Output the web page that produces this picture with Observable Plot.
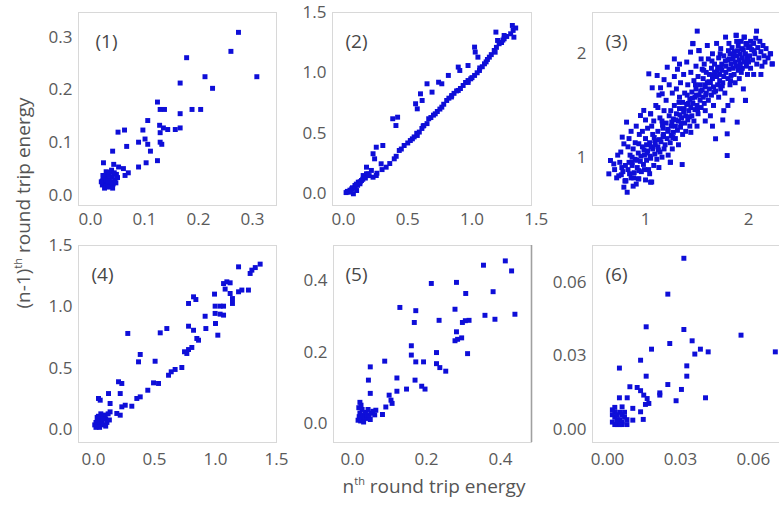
<!DOCTYPE html>
<html><head><meta charset="utf-8">
<script src="https://cdn.jsdelivr.net/npm/d3@7"></script>
<script src="https://cdn.jsdelivr.net/npm/@observablehq/plot@0.6"></script>
<style>
body{margin:0;background:#fff;}
#chart{position:relative;width:779px;height:506px;overflow:hidden;background:#fff;font-family:"Open Sans",sans-serif;}
</style></head><body><div id="chart"></div>
<script>
// ---- data: [n-th energy, (n-1)-th energy] ----
const p1 = [[0.274,0.309],[0.260,0.273],[0.308,0.225],[0.178,0.261],[0.212,0.225],[0.226,0.203],[0.166,0.213],[0.124,0.177],[0.129,0.163],[0.137,0.163],[0.166,0.155],[0.188,0.163],[0.204,0.163],[0.106,0.142],[0.128,0.133],[0.135,0.128],[0.143,0.125],[0.157,0.125],[0.166,0.128],[0.129,0.119],[0.051,0.120],[0.063,0.124],[0.097,0.124],[0.089,0.101],[0.101,0.107],[0.106,0.097],[0.129,0.101],[0.132,0.097],[0.067,0.093],[0.041,0.084],[0.111,0.084],[0.124,0.066],[0.103,0.062],[0.089,0.054],[0.024,0.062],[0.043,0.059],[0.052,0.054],[0.061,0.051],[0.070,0.043],[0.064,0.038],
[0.022,0.020],[0.025,0.024],[0.028,0.018],[0.030,0.028],[0.024,0.032],[0.033,0.022],[0.027,0.036],[0.035,0.030],[0.031,0.040],[0.038,0.026],[0.022,0.028],[0.026,0.014],[0.036,0.017],[0.040,0.035],[0.029,0.045],[0.042,0.022],[0.034,0.038],[0.045,0.030],[0.023,0.038],[0.037,0.044],[0.048,0.040],[0.032,0.016],[0.041,0.014],[0.028,0.030],[0.047,0.024],[0.050,0.034],[0.020,0.026],[0.039,0.048],[0.044,0.043],[0.033,0.027]];

const p2 = [[0.230,0.137],[0.332,0.220],[0.395,0.289],[0.434,0.358],[0.472,0.399],[0.536,0.454],[0.574,0.482],[0.625,0.564],[0.663,0.620],[0.714,0.661],[0.765,0.716],[0.803,0.771],[0.842,0.812],[0.893,0.854],[0.931,0.895],[0.969,0.936],[1.020,0.978],[1.058,1.019],[1.097,1.074],[1.135,1.129],[1.173,1.184],[1.211,1.240],[1.250,1.281],[1.301,1.322],
[0.26,0.17],[0.30,0.20],[0.36,0.25],[0.41,0.31],[0.45,0.37],[0.50,0.42],[0.52,0.44],[0.55,0.47],[0.59,0.51],[0.61,0.54],[0.65,0.58],[0.68,0.63],[0.70,0.65],[0.73,0.68],[0.75,0.70],[0.78,0.74],[0.82,0.79],[0.86,0.83],[0.88,0.85],[0.91,0.87],[0.95,0.92],[0.99,0.95],[1.04,1.00],[1.08,1.05],[1.11,1.09],[1.15,1.15],[1.19,1.21],[1.23,1.25],[1.27,1.30],[1.32,1.35],[1.34,1.37],[1.06,1.04],[0.97,0.92],[0.84,0.80],[0.62,0.56],[0.57,0.50],[1.18,1.17],[1.24,1.27],[1.12,1.11],[1.00,0.96],
[0.383,0.620],[0.421,0.633],[0.408,0.564],[0.574,0.702],[0.561,0.744],[0.612,0.771],[0.599,0.826],[0.650,0.909],[0.689,0.840],[0.740,0.922],[0.765,0.909],[0.816,0.978],[0.893,1.047],[0.905,1.019],[0.969,1.060],[1.020,1.212],[1.025,1.171],[1.046,1.129],[1.186,1.336],[1.250,1.308],[1.326,1.294],[1.314,1.391],[1.199,1.267],[0.255,0.385],[0.306,0.399],[0.230,0.331],[0.242,0.289],[0.293,0.248],[0.179,0.220],[0.217,0.193],[0.255,0.151],
[0.038,0.013],[0.064,0.041],[0.077,0.000],[0.089,0.069],[0.102,0.027],[0.115,0.096],[0.128,0.083],[0.140,0.110],[0.153,0.151],[0.166,0.137],[0.179,0.165],[0.191,0.165],[0.02,0.01],[0.05,0.03],[0.03,0.02],[0.07,0.05],[0.09,0.05],[0.11,0.07],[0.13,0.10],[0.06,0.02],[0.10,0.08],[0.15,0.12],[0.17,0.13],[0.20,0.15]];

const p3 = [[1.502,2.219],[2.078,2.219],[1.777,2.161],[1.880,2.177],[1.956,2.161],[1.459,2.097],[1.437,2.016],[1.518,2.032],[2.230,1.903],[2.214,2.000],[1.032,1.806],[1.113,1.790],[1.211,1.870],[1.065,1.671],[1.146,1.671],[1.162,1.613],[0.816,1.339],[0.951,1.403],[0.983,1.452],[1.049,1.419],[0.774,1.194],[0.790,1.129],[0.660,0.968],[0.692,0.935],[0.644,0.839],[0.790,0.710],[0.822,0.661],[0.806,0.774],[1.049,0.758],[0.935,0.791],[1.793,1.016],[1.356,0.929],[1.680,1.178],[1.793,1.226],[1.890,1.339],[1.971,1.548],[1.243,0.952],
[0.72,0.80],[0.74,0.82],[0.75,0.95],[0.77,0.90],[0.80,0.77],[0.78,0.86],[0.73,1.02],[0.76,1.05],[0.70,0.88],
[0.81,0.77],[0.83,0.88],[0.84,0.95],[0.85,1.02],[0.86,0.80],[0.87,0.92],[0.88,1.08],[0.89,0.85],[0.90,0.98],[0.90,1.14],[0.91,0.74],[0.92,0.90],[0.93,1.04],[0.93,0.79],[0.94,1.22],[0.95,0.96],[0.83,1.10],[0.86,1.25],[0.88,0.72],[0.91,1.30],[0.84,1.18],[0.87,1.00],
[0.96,0.86],[0.97,1.10],[0.98,0.93],[0.99,1.02],[1.00,0.78],[1.00,1.18],[1.01,0.97],[1.02,1.06],[1.02,1.28],[1.03,0.88],[1.04,1.14],[1.05,1.42],[1.05,0.99],[1.06,0.76],[1.07,1.08],[1.07,1.22],[1.08,0.92],[1.08,1.35],[1.09,1.03],[1.09,1.16],[1.10,1.50],[0.97,1.25],[1.00,1.36],[1.04,0.84],[1.01,1.12],[1.06,1.30],[0.99,0.88],
[1.11,0.98],[1.12,1.10],[1.12,1.25],[1.13,1.60],[1.13,0.90],[1.14,1.05],[1.14,1.38],[1.15,1.15],[1.16,1.00],[1.17,1.28],[1.17,1.20],[1.18,1.45],[1.18,1.08],[1.19,1.12],[1.20,1.33],[1.20,1.55],[1.21,1.18],[1.22,1.02],[1.22,1.25],[1.23,1.40],[1.23,1.70],[1.24,1.14],[1.24,0.95],[1.25,1.30],[1.25,1.21],[1.12,1.48],[1.18,1.75],[1.16,1.35],
[1.26,1.62],[1.26,1.08],[1.27,1.37],[1.27,1.24],[1.28,1.50],[1.28,1.78],[1.29,1.18],[1.29,1.30],[1.30,1.42],[1.30,1.66],[1.31,1.26],[1.31,1.85],[1.32,1.35],[1.32,1.12],[1.33,1.47],[1.33,1.58],[1.34,1.29],[1.34,1.72],[1.35,1.38],[1.36,1.22],[1.36,1.53],[1.37,1.44],[1.37,1.80],[1.38,1.33],[1.38,1.62],[1.39,1.40],[1.39,1.25],[1.40,1.51],[1.40,1.92],[1.28,1.95],[1.33,1.90],
[1.41,1.36],[1.41,1.70],[1.42,1.45],[1.43,1.56],[1.43,1.30],[1.44,1.48],[1.44,1.82],[1.45,1.40],[1.45,1.63],[1.46,2.10],[1.46,1.52],[1.47,1.35],[1.47,1.74],[1.48,1.58],[1.48,1.46],[1.49,1.88],[1.49,1.66],[1.50,1.50],[1.51,1.42],[1.51,1.78],[1.52,2.03],[1.52,1.60],[1.53,1.55],[1.53,1.70],[1.54,1.95],[1.54,1.48],[1.55,1.65],[1.55,1.85],[1.44,1.24],[1.50,1.30],
[1.56,1.58],[1.56,1.76],[1.57,1.52],[1.57,1.90],[1.58,1.68],[1.58,1.45],[1.59,1.82],[1.59,1.62],[1.60,2.08],[1.60,1.72],[1.61,1.55],[1.61,1.95],[1.62,1.66],[1.62,1.80],[1.63,1.40],[1.63,1.72],[1.64,1.86],[1.64,1.60],[1.65,2.00],[1.65,1.76],[1.66,1.50],[1.66,1.68],[1.67,1.90],[1.67,1.82],[1.68,1.64],[1.69,1.78],[1.69,2.10],[1.70,1.70],[1.70,1.87],[1.58,1.35],[1.65,1.30],
[1.71,1.96],[1.71,1.58],[1.72,1.80],[1.72,1.74],[1.73,2.05],[1.73,1.66],[1.74,1.90],[1.74,1.84],[1.75,1.36],[1.75,1.72],[1.76,1.98],[1.76,1.78],[1.77,1.62],[1.78,1.88],[1.78,1.82],[1.80,1.94],[1.80,1.76],[1.81,2.10],[1.81,1.85],[1.82,1.70],[1.82,2.00],[1.83,1.90],[1.83,1.79],[1.84,1.55],[1.84,2.06],[1.85,1.86],[1.85,1.95],[1.76,1.45],[1.80,1.50],
[1.86,1.80],[1.86,2.02],[1.87,1.92],[1.87,1.72],[1.88,2.18],[1.88,1.88],[1.89,1.98],[1.90,1.84],[1.90,2.08],[1.91,1.94],[1.91,1.76],[1.92,2.00],[1.92,1.90],[1.93,1.82],[1.93,2.12],[1.94,1.96],[1.94,1.86],[1.95,2.04],[1.95,1.66],[1.96,2.16],[1.96,1.92],[1.97,1.55],[1.97,2.00],[1.98,1.88],[1.98,2.10],[1.99,1.96],[1.99,1.80],[2.00,2.06],[2.00,1.92],
[2.01,1.98],[2.02,2.12],[2.02,1.86],[2.03,2.04],[2.04,1.94],[2.05,2.10],[2.05,1.80],[2.06,2.00],[2.07,2.15],[2.08,1.90],[2.09,2.06],[2.10,1.96],[2.11,2.12],[2.12,2.02],[2.13,1.88],[2.14,2.08],[2.15,1.98],[2.16,1.92],[2.17,2.05],[2.19,1.96],[2.21,2.00],[2.23,1.90],[2.12,1.80],
[0.87,0.95],[0.915,0.97],[0.955,1.01],[1.015,1.04],[1.055,1.10],[1.095,1.12],[1.135,1.17],[1.175,1.22],[1.215,1.27],[1.255,1.34],[1.295,1.36],[1.335,1.41],[1.375,1.47],[1.415,1.52],[1.455,1.57],[1.495,1.60],[1.535,1.64],[1.575,1.70],[1.615,1.73],[1.655,1.79],[1.695,1.83],[1.735,1.86],[1.775,1.93],[1.815,1.95],[1.855,1.99],[1.895,2.03],[1.935,2.05],[1.975,2.09],[2.015,2.07],[2.055,2.03],
[0.935,0.87],[1.045,1.01],[1.125,1.07],[1.265,1.19],[1.345,1.33],[1.425,1.39],[1.505,1.46],[1.585,1.60],[1.665,1.63],[1.745,1.69],[1.825,1.74],[1.905,1.88],[1.985,1.94],[0.985,1.07],[1.085,1.19],[1.165,1.31],[1.245,1.45],[1.325,1.53],[1.405,1.60],[1.485,1.70],[1.565,1.84],[1.645,1.93],[1.725,2.00],[1.805,2.03],[1.885,2.12],[0.805,0.92],[0.765,0.83],[0.845,0.84],[0.885,0.80],[0.935,1.13]];

const p4 = [[0.281,0.784],[0.547,0.789],[0.601,0.824],[0.383,0.613],[0.369,0.553],[0.505,0.558],[0.779,1.028],[0.820,1.082],[0.839,1.060],[0.779,0.843],[0.820,0.810],[0.915,0.924],[0.921,0.824],[1.000,0.865],[1.019,0.770],[0.847,0.743],[0.861,0.729],[0.746,0.635],[0.779,0.653],[0.806,0.670],[0.765,0.621],[0.724,0.507],[0.669,0.491],[0.637,0.472],[0.615,0.444],[0.533,0.377],[0.492,0.382],[0.445,0.322],[0.383,0.268],[0.355,0.255],[0.314,0.192],[0.260,0.200],[0.232,0.187],[0.205,0.391],[0.232,0.377],[0.219,0.295],[0.123,0.295],[0.136,0.214],[0.041,0.255],[0.055,0.241],[0.191,0.133],[0.219,0.119],[0.136,0.146],[1.189,1.326],[1.284,1.272],[1.298,1.299],[1.326,1.320],[1.366,1.348],[1.066,1.190],[1.093,1.204],[1.120,1.196],[1.079,1.145],[1.120,1.109],[1.139,1.068],[1.139,1.028],[1.189,1.123],[1.216,1.137],[1.270,1.137],[0.992,1.104],[0.997,1.006],[1.038,1.006],[1.066,1.006],[0.997,0.947],[1.038,0.941],[1.066,0.933],
[0.01,0.04],[0.02,0.06],[0.03,0.03],[0.04,0.08],[0.05,0.05],[0.06,0.10],[0.07,0.07],[0.08,0.04],[0.09,0.12],[0.10,0.09],[0.11,0.06],[0.12,0.13],[0.03,0.10],[0.05,0.02],[0.02,0.02],[0.08,0.09],[0.13,0.08],[0.06,0.13],[0.04,0.11],[0.10,0.03]];

const p5 = [[0.354,0.443],[0.413,0.455],[0.430,0.427],[0.213,0.392],[0.281,0.395],[0.306,0.364],[0.380,0.369],[0.128,0.325],[0.171,0.316],[0.167,0.283],[0.234,0.289],[0.277,0.320],[0.297,0.283],[0.305,0.288],[0.315,0.289],[0.358,0.303],[0.385,0.292],[0.439,0.306],[0.281,0.257],[0.277,0.232],[0.284,0.236],[0.295,0.240],[0.159,0.218],[0.159,0.192],[0.171,0.173],[0.192,0.173],[0.227,0.199],[0.311,0.196],[0.227,0.168],[0.236,0.157],[0.252,0.147],[0.087,0.175],[0.048,0.159],[0.043,0.122],[0.048,0.085],[0.120,0.128],[0.169,0.122],[0.187,0.105],[0.196,0.097],[0.146,0.097],[0.120,0.091],[0.099,0.080],[0.104,0.066],[0.107,0.057],[0.090,0.047],[0.063,0.038],[0.081,0.026],
[0.015,0.010],[0.018,0.020],[0.022,0.008],[0.025,0.015],[0.020,0.030],[0.028,0.025],[0.030,0.012],[0.033,0.020],[0.026,0.040],[0.035,0.032],[0.038,0.015],[0.040,0.025],[0.017,0.045],[0.023,0.052],[0.045,0.020],[0.050,0.030],[0.042,0.040],[0.055,0.035],[0.030,0.005],[0.048,0.012],[0.060,0.025],[0.020,0.060]];

const p6 = [[0.0314,0.0697],[0.0248,0.0551],[0.0159,0.0418],[0.0314,0.0407],[0.0256,0.0350],[0.0348,0.0361],[0.0549,0.0384],[0.0690,0.0316],[0.0181,0.0327],[0.0382,0.0327],[0.0359,0.0307],[0.0414,0.0316],[0.0136,0.0282],[0.0049,0.0250],[0.0326,0.0259],[0.0159,0.0217],[0.0326,0.0217],[0.0248,0.0183],[0.0304,0.0163],[0.0215,0.0149],[0.0215,0.0140],[0.0282,0.0117],[0.0403,0.0129],[0.0092,0.0174],[0.0122,0.0171],[0.0136,0.0158],[0.0149,0.0140],[0.0163,0.0126],[0.0170,0.0106],[0.0156,0.0102],[0.0049,0.0129],[0.0081,0.0129],[0.0060,0.0092],[0.0104,0.0086],[0.0136,0.0072],[0.0104,0.0038],[0.0147,0.0041],
[0.002,0.003],[0.003,0.005],[0.004,0.002],[0.005,0.004],[0.003,0.007],[0.006,0.003],[0.004,0.006],[0.007,0.005],[0.002,0.008],[0.005,0.007],[0.006,0.002],[0.008,0.004],[0.003,0.009],[0.007,0.007],[0.004,0.004],[0.002,0.006],[0.006,0.006],[0.005,0.002],[0.008,0.002],[0.003,0.002]];

// ---- tick values and labels ----
const ticks1 = [0, 0.1, 0.2, 0.3];
const ticks2 = [0, 0.5, 1.0, 1.5];
const ticks3 = [1, 2];
const ticks4 = [0, 0.5, 1.0, 1.5];
const ticks5 = [0, 0.2, 0.4];
const ticks6 = [0, 0.03, 0.06];
const panelLabels = ["(1)", "(2)", "(3)", "(4)", "(5)", "(6)"];
const xTitleMain = "n", xTitleSup = "th", xTitleRest = " round trip energy";
const yTitleMain = "(n-1)", yTitleSup = "th", yTitleRest = " round trip energy";

const chart = document.getElementById("chart");
const DOT = "#0e0ed8";

function panel(c) {
  const svg = Plot.plot({
    width: c.w, height: c.h,
    marginLeft: c.ml, marginRight: c.mr, marginTop: c.mt, marginBottom: c.mb,
    x: {domain: c.xd, ticks: c.ticks, tickFormat: d3.format(c.fmt), tickSize: 0, tickPadding: c.padX, label: null},
    y: {domain: c.yd, ticks: c.ticks, tickFormat: d3.format(c.fmt), tickSize: 0, tickPadding: 6, label: null},
    style: {background: "transparent", overflow: "visible", fontFamily: "'Open Sans', sans-serif", fontSize: "17px", color: "#5a5a5a"},
    marks: [
      Plot.frame({stroke: "#d8d8d8"}),
      ...(c.extra || []),
      Plot.dot(c.data, {x: d => d[0], y: d => d[1], symbol: "square", r: 2.8, fill: DOT}),
      Plot.text([c.label], {frameAnchor: "top-left", textAnchor: "start", lineAnchor: "middle", dx: c.dx, dy: 29, fill: "#474747", fontSize: 19})
    ]
  });
  svg.style.position = "absolute";
  svg.style.left = c.left + "px";
  svg.style.top = c.top + "px";
  chart.appendChild(svg);
}

panel({data: p1, label: panelLabels[0], ticks: ticks1, fmt: ".1f", left: 0, top: 0, w: 280, h: 240, ml: 78, mr: 4, mt: 12, mb: 35,
  xd: [-0.0222, 0.3444], yd: [-0.0189, 0.3466], padX: 7, dx: 17});
panel({data: p2, label: panelLabels[1], ticks: ticks2, fmt: ".1f", left: 280, top: 0, w: 254, h: 240, ml: 52, mr: 3, mt: 12, mb: 35,
  xd: [-0.0856, 1.463], yd: [-0.0967, 1.498], padX: 7, dx: 13});
panel({data: p3, label: panelLabels[2], ticks: ticks3, fmt: "d", left: 535, top: 0, w: 260, h: 240, ml: 57, mr: 0, mt: 12, mb: 35,
  xd: [0.4854, 2.456], yd: [0.5329, 2.399], padX: 7, dx: 13});
panel({data: p4, label: panelLabels[3], ticks: ticks4, fmt: ".1f", left: 0, top: 235, w: 280, h: 240, ml: 78, mr: 4, mt: 10, mb: 33,
  xd: [-0.123, 1.5], yd: [-0.1033, 1.4996], padX: 10, dx: 13});
const xd5 = [-0.0514, 0.4838];
panel({data: p5, label: panelLabels[4], ticks: ticks5, fmt: ".1f", left: 280, top: 235, w: 254, h: 240, ml: 53, mr: 3, mt: 10, mb: 33,
  xd: xd5, yd: [-0.0522, 0.498], padX: 10, dx: 12,
  extra: [Plot.ruleX([xd5[1]], {stroke: "#a0a0a0", strokeWidth: 1.6})]});
panel({data: p6, label: panelLabels[5], ticks: ticks6, fmt: ".2f", left: 535, top: 235, w: 260, h: 240, ml: 57, mr: 0, mt: 10, mb: 33,
  xd: [-0.00617, 0.0773], yd: [-0.0053, 0.0749], padX: 10, dx: 13});

// axis titles
const ov = d3.create("svg").attr("width", 779).attr("height", 506)
  .style("position", "absolute").style("left", "0px").style("top", "0px").style("pointer-events", "none")
  .style("font-family", "'Open Sans', sans-serif").attr("fill", "#555");
const xt = ov.append("text").attr("x", 434).attr("y", 493).attr("text-anchor", "middle").attr("font-size", 19);
xt.append("tspan").text(xTitleMain);
xt.append("tspan").attr("font-size", 11).attr("dy", -8).text(xTitleSup);
xt.append("tspan").attr("dy", 8).text(xTitleRest);
const yt = ov.append("text").attr("transform", "translate(30,203) rotate(-90)").attr("text-anchor", "middle").attr("font-size", 19);
yt.append("tspan").text(yTitleMain);
yt.append("tspan").attr("font-size", 11).attr("dy", -8).text(yTitleSup);
yt.append("tspan").attr("dy", 8).text(yTitleRest);
chart.appendChild(ov.node());
</script>
</body></html>
